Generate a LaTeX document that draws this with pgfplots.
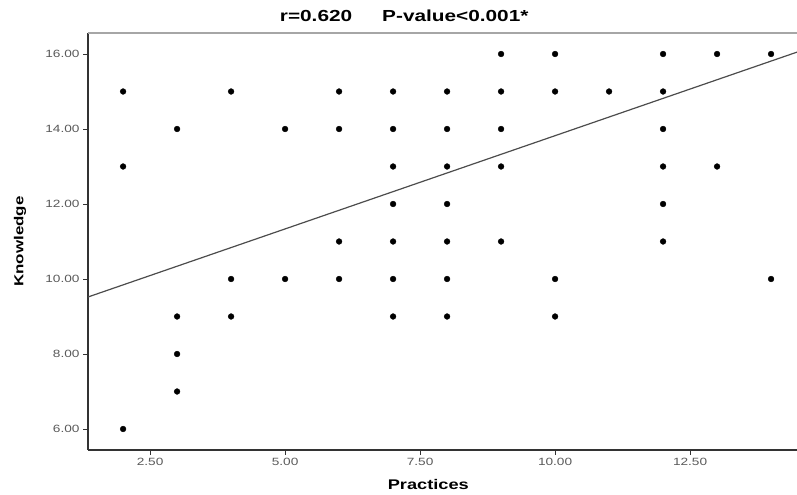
\documentclass[border=0pt]{standalone}
\usepackage{fontspec}
\setmainfont{Liberation Sans}[FakeStretch=1.3]
\usepackage{pgfplots}
\pgfplotsset{compat=1.18}

% Knowledge vs practices, one row per observed pair
\pgfplotstableread{
x y
2 15
2 13
2 6
3 14
3 9
3 8
3 7
4 15
4 10
4 9
5 14
5 10
6 15
6 14
6 11
6 10
7 15
7 14
7 13
7 12
7 11
7 10
7 9
8 15
8 14
8 13
8 12
8 11
8 10
8 9
9 16
9 15
9 14
9 13
9 11
10 16
10 15
10 10
10 9
11 15
12 16
12 15
12 14
12 13
12 12
12 11
13 16
13 13
14 16
14 10
}\pts

\begin{document}
\begin{tikzpicture}
\path[use as bounding box] (-88bp,-45bp) rectangle (709bp,450bp);
\begin{axis}[
  at={(0,0)}, anchor=south west,
  scale only axis, width=709bp, height=417bp,
  xmin=1.35, xmax=14.48, ymin=5.44, ymax=16.56,
  axis x line=bottom, axis y line=left,
  axis line style={-, black!80, line width=1.2bp},
  xtick={2.5,5,7.5,10,12.5},
  xticklabels={2.50,5.00,7.50,10.00,12.50},
  ytick={6,8,10,12,14,16},
  yticklabels={6.00,8.00,10.00,12.00,14.00,16.00},
  tick align=outside, major tick length=5bp,
  tick style={black!80, line width=0.8bp},
  tick label style={font=\fontsize{10.5bp}{12bp}\selectfont, text=black!65},
  /pgf/number format/assume math mode=true,
  xlabel={\bfseries Practices},
  ylabel={\bfseries Knowledge},
  xlabel style={font=\fontsize{14bp}{16bp}\selectfont, at={(axis description cs:0.48,-0.083)}, anchor=center},
  ylabel style={font=\fontsize{13bp}{15bp}\selectfont, at={(axis description cs:-0.096,0.5)}, anchor=center},
  clip=false,
]
\addplot[only marks, mark=*, mark size=2.9bp, black] table[x=x, y=y] {\pts};
\addplot[gray!60!black, line width=1.2bp] coordinates {(1.35,9.52)(14.48,16.05)};
\draw[gray!70, line width=2bp] (rel axis cs:0,1) -- (rel axis cs:1,1);
\node[anchor=south, font=\fontsize{16bp}{18bp}\selectfont\bfseries, inner sep=0pt]
  at (rel axis cs:0.446,1.027) {r=0.620\hspace{30bp}P-value<0.001*};
\end{axis}
\end{tikzpicture}
\end{document}
